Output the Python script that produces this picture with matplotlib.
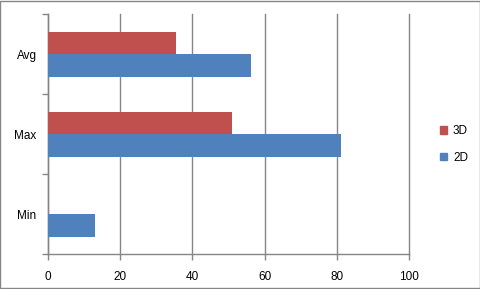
import numpy as np
import matplotlib
matplotlib.use('Agg')
import matplotlib.pyplot as plt
from matplotlib.patches import Patch, Rectangle

plt.rcParams['font.family'] = ['Liberation Sans', 'DejaVu Sans']

categories = ['Min', 'Max', 'Avg']
vals_2d = [13, 81, 56.2]
vals_3d = [0, 51, 35.5]
x_ticks = [0, 20, 40, 60, 80, 100]

blue = '#4F81BD'
red = '#C0504D'
grey = '#868686'

fig = plt.figure(figsize=(4.81, 2.89), dpi=100)
ax = fig.add_axes([0.0992, 0.120, 0.752, 0.8305])

y = np.arange(len(categories))
h = 0.284
ax.barh(y - h / 2, vals_2d, height=h, color=blue, zorder=3)
ax.barh(y + h / 2, vals_3d, height=h, color=red, zorder=3)

ax.set_xlim(0, 100)
ax.set_ylim(-0.5, 2.5)
ax.set_xticks(x_ticks)
ax.set_xticklabels([str(t) for t in x_ticks], fontsize=8.5)
ax.set_yticks(y)
ax.set_yticklabels(categories, fontsize=8.5)
ax.set_yticks([-0.5, 0.5, 1.5, 2.5], minor=True)

ax.tick_params(axis='y', which='major', length=0, pad=8)
ax.tick_params(axis='y', which='minor', length=4, color=grey, width=1)
ax.tick_params(axis='x', length=4, color=grey, width=1, pad=8)

ax.grid(axis='x', color=grey, linewidth=1, zorder=0)
for gl in ax.get_xgridlines():
    gl.set_clip_on(False)
for s in ['top', 'right']:
    ax.spines[s].set_visible(False)
for s in ['left', 'bottom']:
    ax.spines[s].set_color(grey)
    ax.spines[s].set_linewidth(1)

handles = [Patch(color=red, label='3D'), Patch(color=blue, label='2D')]
fig.legend(handles=handles, loc='center left', bbox_to_anchor=(0.905, 0.50),
           frameon=False, fontsize=8.5, handlelength=0.6, handleheight=0.6,
           handletextpad=0.5, labelspacing=1.25, borderaxespad=0)

fig.patches.append(Rectangle((0.001, 0.002), 0.997, 0.995, transform=fig.transFigure,
                             fill=False, edgecolor=grey, linewidth=1))

fig.savefig('out.png', dpi=100)
